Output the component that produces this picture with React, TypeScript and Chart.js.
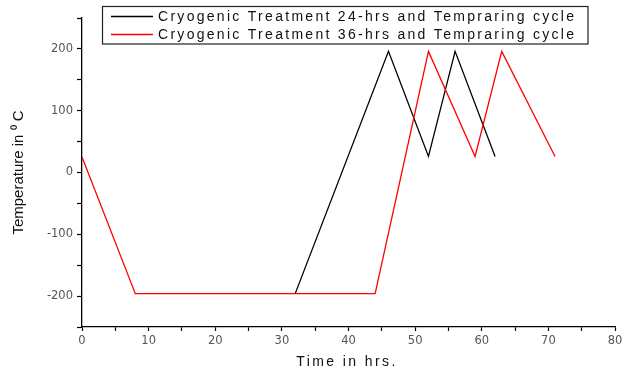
import React, { useEffect, useRef } from "react";
import { Chart, registerables } from "chart.js";

Chart.register(...registerables);

const seriesLabels = [
  "Cryogenic Treatment 24-hrs and Tempraring cycle",
  "Cryogenic Treatment 36-hrs and Tempraring cycle",
];
const blackTimes = [32, 46, 52, 56, 62];
const blackTemps = [-196, 196, 26, 196, 26];
const redTimes = [0, 8, 44, 52, 59, 63, 71];
const redTemps = [25, -196, -196, 196, 26, 196, 26];
const xTitle = "Time in hrs.";
const yTitle = "Temperature in \u2070 C";

const FONT = "Arial, 'Liberation Sans', sans-serif";

const legendPlugin = {
  id: "boxLegend",
  afterDraw(chart: any) {
    const ctx = chart.ctx as CanvasRenderingContext2D;
    ctx.save();
    ctx.strokeStyle = "#222";
    ctx.lineWidth = 1.2;
    ctx.strokeRect(102.5, 6.5, 485.5, 37.5);
    const colors = ["#000000", "#ff0000"];
    const rows = [16.5, 34.5];
    ctx.font = "14px " + FONT;
    seriesLabels.forEach((lab, i) => {
      ctx.strokeStyle = colors[i];
      ctx.lineWidth = 1.3;
      ctx.beginPath();
      ctx.moveTo(111, rows[i]);
      ctx.lineTo(153, rows[i]);
      ctx.stroke();
      (ctx as any).letterSpacing = "0px";
      const w = ctx.measureText(lab).width;
      const ls = (416 - w) / (lab.length - 1);
      (ctx as any).letterSpacing = ls + "px";
      ctx.fillStyle = "#111";
      ctx.textBaseline = "middle";
      ctx.textAlign = "left";
      ctx.fillText(lab, 158, rows[i] + 1);
    });
    ctx.restore();
  },
};

const xTitlePlugin = {
  id: "xTitleSpaced",
  afterDraw(chart: any) {
    const ctx = chart.ctx as CanvasRenderingContext2D;
    ctx.save();
    ctx.font = "14px " + FONT;
    (ctx as any).letterSpacing = "2.4px";
    ctx.fillStyle = "#111";
    ctx.textAlign = "center";
    ctx.textBaseline = "middle";
    ctx.fillText(xTitle, 347, 362);
    ctx.restore();
  },
};

export default function App() {
  const ref = useRef<HTMLCanvasElement>(null);
  useEffect(() => {
    if (!ref.current) return;
    const tickFont = { family: "'DejaVu Sans', sans-serif", size: 11.5 };
    const chart = new Chart(ref.current, {
      type: "line",
      data: {
        datasets: [
          {
            label: seriesLabels[0],
            data: blackTimes.map((t, i) => ({ x: t, y: blackTemps[i] })),
            borderColor: "#000000",
            borderWidth: 1.3,
            pointRadius: 0,
            tension: 0,
            fill: false,
            order: 2,
          },
          {
            label: seriesLabels[1],
            data: redTimes.map((t, i) => ({ x: t, y: redTemps[i] })),
            borderColor: "#ff0000",
            borderWidth: 1.3,
            pointRadius: 0,
            tension: 0,
            fill: false,
            order: 1,
          },
        ],
      },
      options: {
        responsive: false,
        animation: false,
        layout: { padding: { top: 18, right: 0, left: 0, bottom: 0 } },
        plugins: { legend: { display: false }, tooltip: { enabled: false } },
        scales: {
          x: {
            type: "linear",
            min: 0,
            max: 80,
            afterFit: (s: any) => {
              s.height = 48;
              s.paddingRight = 7;
              s.paddingLeft = 0;
            },
            border: { display: true, color: "#000", width: 1.3 },
            grid: {
              drawOnChartArea: false,
              drawTicks: true,
              tickLength: 4,
              tickColor: "#000",
              tickWidth: 1.2,
            },
            ticks: {
              stepSize: 5,
              autoSkip: false,
              maxRotation: 0,
              padding: 3,
              color: "#555",
              font: tickFont,
              callback: (v: any) => (Number(v) % 10 === 0 ? String(v) : ""),
            },
            title: { display: false },
          },
          y: {
            type: "linear",
            min: -250,
            max: 250,
            afterFit: (s: any) => {
              s.width = 82;
            },
            border: { display: true, color: "#000", width: 1.3 },
            grid: {
              drawOnChartArea: false,
              drawTicks: true,
              tickLength: 5,
              tickColor: "#000",
              tickWidth: 1.2,
            },
            ticks: {
              stepSize: 50,
              autoSkip: false,
              padding: 4,
              color: "#555",
              font: tickFont,
              callback: (v: any) => (Number(v) % 100 === 0 ? String(v) : ""),
            },
            title: {
              display: true,
              text: yTitle,
              color: "#111",
              font: { family: FONT, size: 15 },
              padding: { top: 10, bottom: 0 },
            },
          },
        },
      },
      plugins: [legendPlugin, xTitlePlugin],
    } as any);
    return () => chart.destroy();
  }, []);
  return (
    <div style={{ position: "absolute", left: 0, top: 0, width: 622, height: 375, background: "#fff" }}>
      <canvas ref={ref} width={622} height={375} style={{ display: "block" }} />
    </div>
  );
}
